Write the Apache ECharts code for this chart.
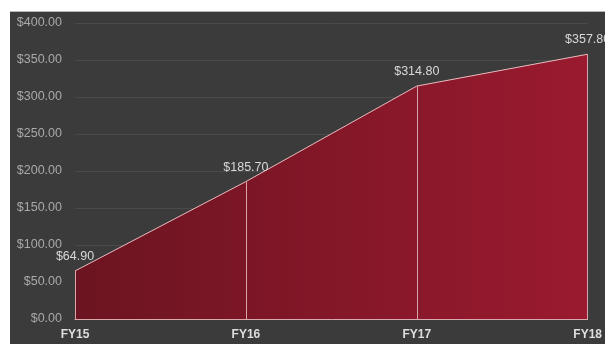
<!DOCTYPE html>
<html>
<head>
<meta charset="utf-8">
<script src="https://cdn.jsdelivr.net/npm/echarts@6/dist/echarts.min.js"></script>
<style>
  html, body { margin: 0; padding: 0; background: #ffffff; width: 605px; height: 344px; overflow: hidden; }
  #panel { position: absolute; left: 10px; top: 11px; width: 595px; height: 333px; background: #3b3b3b; border-top: 1px solid #b5b5b5; box-sizing: border-box; }
  #chart { width: 100%; height: 100%; }
</style>
</head>
<body>
<div id="panel"><div id="chart"></div></div>
<script>
// Fiscal-year totals
const years = ['FY15', 'FY16', 'FY17', 'FY18'];
const totals = [64.90, 185.70, 314.80, 357.80];
const yMin = 0, yMax = 400, yStep = 50;

const money = v => '$' + Number(v).toFixed(2);

const chart = echarts.init(document.getElementById('chart'));

// Drop lines from each point down to the baseline
const dropLines = years.map((y, i) => [
  { coord: [y, totals[i]] },
  { coord: [y, 0] }
]);

chart.setOption({
  backgroundColor: 'transparent',
  animation: false,
  grid: { left: 65, right: 17, top: 11, bottom: 25 },
  xAxis: {
    type: 'category',
    data: years,
    boundaryGap: false,
    axisLine: { show: true, lineStyle: { color: '#d9a9ae', width: 1 } },
    axisTick: { show: false },
    axisLabel: {
      color: '#dedede', fontWeight: 'bold', fontSize: 12,
      fontFamily: 'Liberation Sans, Arial, sans-serif', margin: 10
    },
    splitLine: { show: false }
  },
  yAxis: {
    type: 'value',
    min: yMin, max: yMax, interval: yStep,
    axisLine: { show: false },
    axisTick: { show: false },
    axisLabel: {
      color: '#a9a9a9', fontSize: 12.5,
      fontFamily: 'Liberation Sans, Arial, sans-serif', margin: 13,
      formatter: money
    },
    splitLine: { lineStyle: { color: '#4a4a4a', width: 1 } }
  },
  series: [{
    type: 'line',
    data: totals,
    symbol: 'circle',
    symbolSize: 2,
    showSymbol: true,
    showAllSymbol: true,
    itemStyle: { color: 'rgba(0,0,0,0)', borderWidth: 0 },
    lineStyle: { color: '#e8bcc0', width: 1 },
    areaStyle: {
      opacity: 1,
      color: new echarts.graphic.LinearGradient(0, 0, 1, 0, [
        { offset: 0, color: '#6c1421' },
        { offset: 1, color: '#9a1a2f' }
      ])
    },
    label: {
      show: true, position: 'top', distance: 7,
      color: '#d8d8d8', fontSize: 12.5,
      fontFamily: 'Liberation Sans, Arial, sans-serif',
      formatter: p => money(p.value)
    },
    labelLayout: { hideOverlap: false },
    markLine: {
      silent: true, symbol: 'none', label: { show: false },
      lineStyle: { color: '#d9a3aa', width: 1, type: 'solid' },
      data: dropLines
    }
  }]
});
</script>
</body>
</html>
